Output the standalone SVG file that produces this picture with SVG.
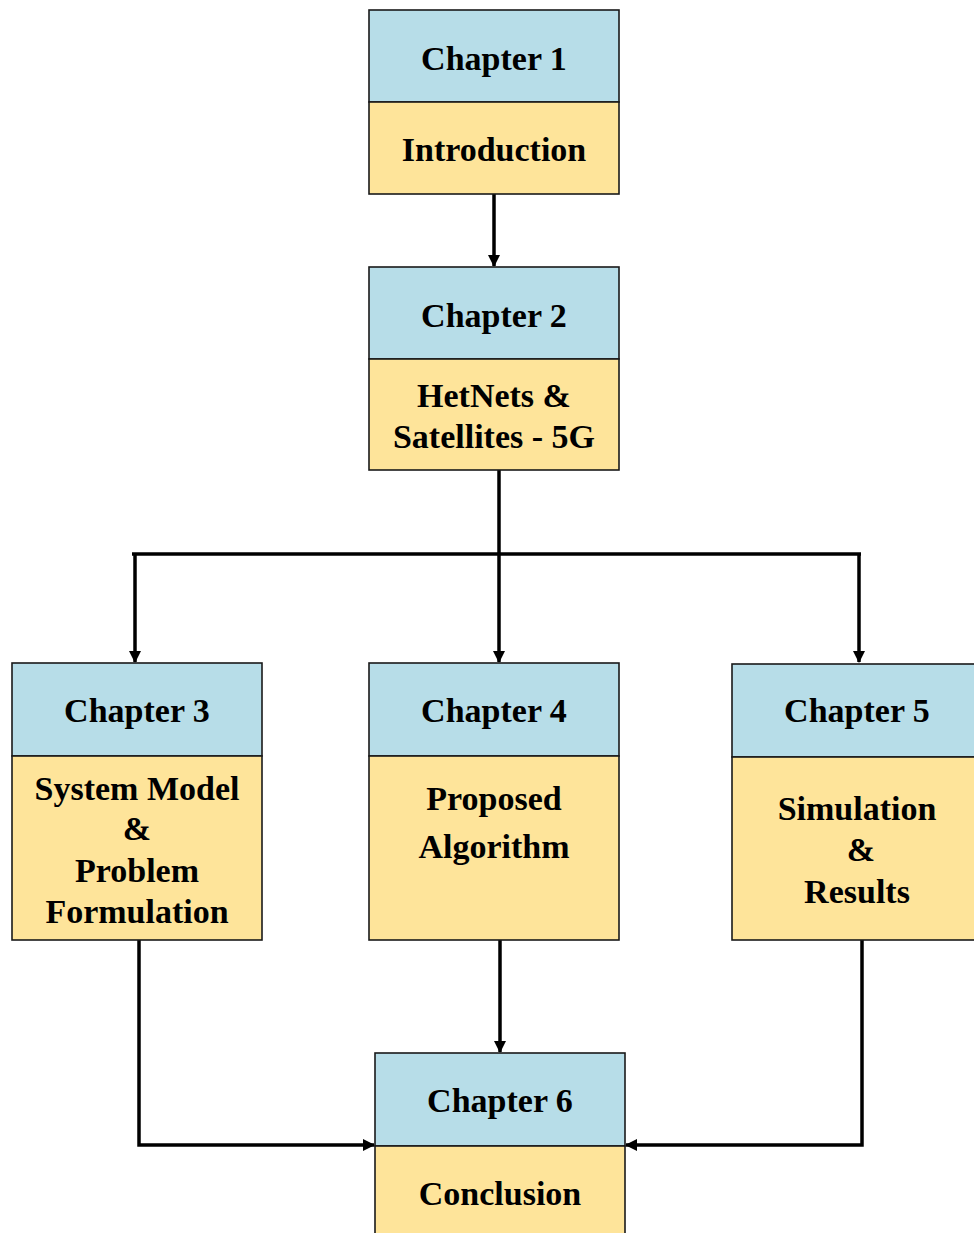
<svg xmlns="http://www.w3.org/2000/svg" width="974" height="1233" viewBox="0 0 974 1233">
<style>
.h{fill:#b7dde8;stroke:#1a1a1a;stroke-width:1.6}
.b{fill:#fee49a;stroke:#1a1a1a;stroke-width:1.6}
text{font-family:"Liberation Serif","Times New Roman",serif;font-weight:bold;font-size:34px;fill:#000;text-anchor:middle}
.c{fill:none;stroke:#000;stroke-width:3.5}
</style>
<defs>
<marker id="ar" markerWidth="12" markerHeight="12" refX="11" refY="6" orient="auto" markerUnits="userSpaceOnUse">
<path d="M0,0 L12,6 L0,12 Z" fill="#000"/>
</marker>
</defs>
<rect width="974" height="1233" fill="#fff"/>
<g id="connectors">
<path class="c" d="M494,194 V266" marker-end="url(#ar)"/>
<path class="c" d="M499,470 V554"/>
<path class="c" d="M132,554 H861"/>
<path class="c" d="M135,554 V662" marker-end="url(#ar)"/>
<path class="c" d="M499,554 V662" marker-end="url(#ar)"/>
<path class="c" d="M859,554 V662" marker-end="url(#ar)"/>
<path class="c" d="M500,940 V1052" marker-end="url(#ar)"/>
<path class="c" d="M139,940 V1145 H374" marker-end="url(#ar)"/>
<path class="c" d="M862,940 V1145 H626" marker-end="url(#ar)"/>
</g>
<g id="ch1">
<rect class="h" x="369" y="10" width="250" height="92"/>
<rect class="b" x="369" y="102" width="250" height="92"/>
<text x="494" y="70">Chapter 1</text>
<text x="494" y="161">Introduction</text>
</g>
<g id="ch2">
<rect class="h" x="369" y="267" width="250" height="92"/>
<rect class="b" x="369" y="359" width="250" height="111"/>
<text x="494" y="327">Chapter 2</text>
<text x="494" y="407">HetNets &amp;</text>
<text x="494" y="448">Satellites - 5G</text>
</g>
<g id="ch3">
<rect class="h" x="12" y="663" width="250" height="93"/>
<rect class="b" x="12" y="756" width="250" height="184"/>
<text x="137" y="722">Chapter 3</text>
<text x="137" y="800">System Model</text>
<text x="137" y="840">&amp;</text>
<text x="137" y="882">Problem</text>
<text x="137" y="923">Formulation</text>
</g>
<g id="ch4">
<rect class="h" x="369" y="663" width="250" height="93"/>
<rect class="b" x="369" y="756" width="250" height="184"/>
<text x="494" y="722">Chapter 4</text>
<text x="494" y="810">Proposed</text>
<text x="494" y="858">Algorithm</text>
</g>
<g id="ch5">
<rect class="h" x="732" y="664" width="250" height="93"/>
<rect class="b" x="732" y="757" width="250" height="183"/>
<text x="857" y="722">Chapter 5</text>
<text x="857" y="820">Simulation</text>
<text x="861" y="861">&amp;</text>
<text x="857" y="903">Results</text>
</g>
<g id="ch6">
<rect class="h" x="375" y="1053" width="250" height="93"/>
<rect class="b" x="375" y="1146" width="250" height="100"/>
<text x="500" y="1112">Chapter 6</text>
<text x="500" y="1205">Conclusion</text>
</g>
</svg>
